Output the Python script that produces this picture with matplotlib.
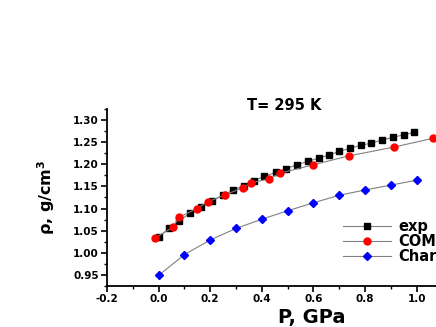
import matplotlib
matplotlib.use('Agg')
import matplotlib.pyplot as plt
from matplotlib.ticker import MultipleLocator

# experimental density
p_exp = [0.0, 0.04, 0.08, 0.12, 0.165, 0.205, 0.25, 0.29, 0.33, 0.37, 0.41, 0.455, 0.495,
         0.535, 0.58, 0.62, 0.66, 0.70, 0.74, 0.785, 0.825, 0.865, 0.91, 0.95, 0.99]
rho_exp = [1.036, 1.055, 1.072, 1.089, 1.104, 1.117, 1.130, 1.142, 1.152, 1.163, 1.173, 1.182, 1.190,
           1.199, 1.207, 1.214, 1.221, 1.229, 1.236, 1.243, 1.248, 1.255, 1.261, 1.267, 1.272]

# COMPASS
p_com = [-0.015, 0.056, 0.078, 0.149, 0.19, 0.257, 0.327, 0.359, 0.427, 0.471, 0.60, 0.737, 0.913, 1.064]
rho_com = [1.033, 1.058, 1.080, 1.100, 1.115, 1.131, 1.147, 1.158, 1.167, 1.180, 1.199, 1.219, 1.239, 1.259]

# Cha...
p_cha = [0.0, 0.1, 0.2, 0.3, 0.4, 0.5, 0.6, 0.7, 0.8, 0.9, 1.0]
rho_cha = [0.949, 0.996, 1.029, 1.055, 1.076, 1.095, 1.113, 1.130, 1.142, 1.153, 1.164]

labels = ['exp', 'COMPASS', 'Charmm']

W, H = 436, 327
fig = plt.figure(figsize=(W / 100, H / 100), dpi=100)
ax = fig.add_axes([107 / W, 41 / H, (W - 107) / W, (286 - 109) / H])

line_kw = dict(color='#808080', lw=0.8)
ax.plot(p_exp, rho_exp, marker='s', ms=4.5, mfc='black', mec='black', label=labels[0], **line_kw)
ax.plot(p_com, rho_com, marker='o', ms=5, mfc='red', mec='red', label=labels[1], **line_kw)
ax.plot(p_cha, rho_cha, marker='D', ms=4.2, mfc='blue', mec='blue', label=labels[2], **line_kw)

ax.set_xlim(-0.2, 1.075)
ax.set_ylim(0.925, 1.325)
ax.xaxis.set_major_locator(MultipleLocator(0.2))
ax.xaxis.set_minor_locator(MultipleLocator(0.1))
ax.yaxis.set_major_locator(MultipleLocator(0.05))
ax.yaxis.set_minor_locator(MultipleLocator(0.025))
ax.xaxis.set_major_formatter(plt.FormatStrFormatter('%.1f'))
ax.yaxis.set_major_formatter(plt.FormatStrFormatter('%.2f'))

for s in ['top', 'right']:
    ax.spines[s].set_visible(False)
for s in ['left', 'bottom']:
    ax.spines[s].set_linewidth(1.3)

ax.tick_params(which='major', direction='out', length=4, width=1.2, labelsize=7.5, pad=2)
ax.tick_params(which='minor', direction='out', length=2.5, width=1.0)
for t in ax.get_xticklabels() + ax.get_yticklabels():
    t.set_fontweight('bold')

ax.set_xlabel('P, GPa', fontsize=14, fontweight='bold', va='top')
ax.xaxis.set_label_coords(0.623, -0.125)
ax.set_ylabel(r'$\mathbf{\rho}$, g/cm$^\mathbf{3}$', fontsize=11.5, fontweight='bold', va='center')
ax.yaxis.set_label_coords(-0.185, 0.5)

fig.text(284 / W, 1 - 105 / H, 'T= 295 K', ha='center', va='center', fontsize=10.5, fontweight='bold')

leg = ax.legend(loc='upper left', bbox_to_anchor=(343 / W, 1 - 219 / H), bbox_transform=fig.transFigure,
                frameon=False, borderpad=0, borderaxespad=0, handlelength=3.3, handletextpad=0.5,
                labelspacing=0.0, prop={'weight': 'bold', 'size': 10.5})

fig.savefig('out.png', dpi=100)
